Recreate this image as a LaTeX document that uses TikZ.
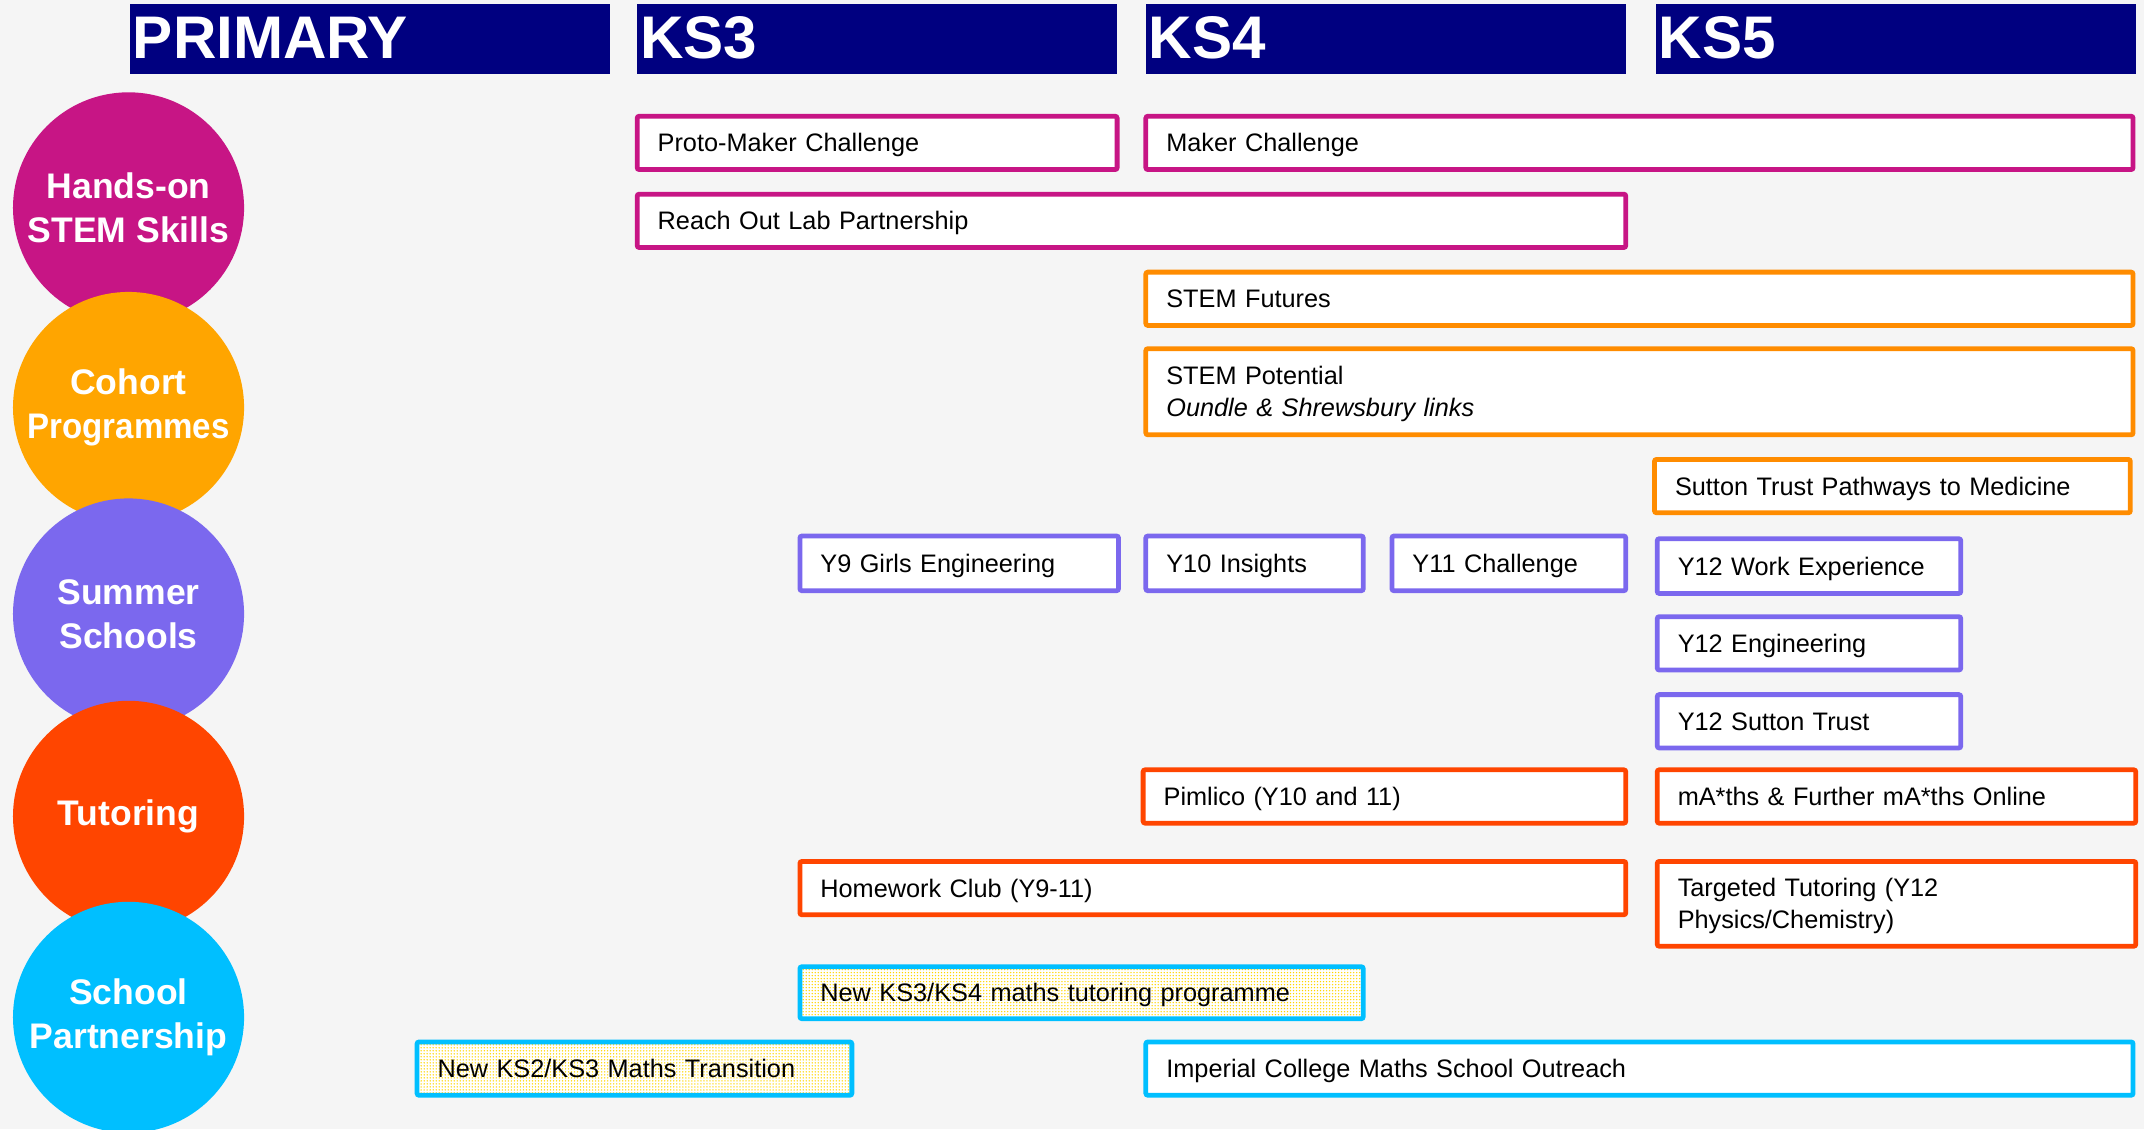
\documentclass[tikz,border=0pt]{standalone}
\usepackage{fontspec}
\usepackage{graphicx}
\setmainfont{Liberation Sans}
\usetikzlibrary{patterns}
\definecolor{bgc}{HTML}{F5F5F5}
\definecolor{navyc}{HTML}{000080}
\definecolor{magc}{HTML}{C71585}
\definecolor{orc}{HTML}{FFA500}
\definecolor{dorc}{HTML}{FF8C00}
\definecolor{purc}{HTML}{7B68EE}
\definecolor{redc}{HTML}{FF4500}
\definecolor{bluc}{HTML}{00BFFF}
\definecolor{goldc}{HTML}{FFD700}
\pgfdeclarepatternformonly{ydots}{\pgfqpoint{-1pt}{-1pt}}{\pgfqpoint{1pt}{1pt}}{\pgfqpoint{2.2pt}{2.2pt}}{\pgfpathcircle{\pgfqpoint{0pt}{0pt}}{0.55pt}\pgfusepath{fill}}
\newcommand{\prg}[8][]{%
  \pgfmathsetmacro{\tw}{#5-#3-30}%
  \pgfmathsetmacro{\bh}{#6-#4}%
  \node[pbox, draw=#2, text width=\tw pt, minimum height=\bh pt, anchor=north west, #1] (#7) at (#3,#4) {#8};}
\newcommand{\topstrut}{\rule{0pt}{17.5pt}}
\newcommand{\botstrut}{\rule[-4.3pt]{0pt}{4.3pt}}
\begin{document}
\begin{tikzpicture}[x=1pt,y=-1pt,
  hdr/.style={rectangle, fill=navyc, minimum width=351pt, minimum height=51pt, inner sep=0pt, outer sep=0pt, anchor=north west},
  hdrtxt/.style={text=white, font=\fontsize{44}{44}\selectfont\bfseries, inner sep=0pt, anchor=base west},
  circ/.style={circle, minimum size=169pt, inner sep=0pt, text=white, align=center, font=\fontsize{26}{32}\selectfont\bfseries},
  pbox/.style={rectangle, fill=white, line width=3.5pt, inner xsep=15pt, inner ysep=0pt, outer sep=0pt, align=left, text=black, rounded corners=1.5pt, font=\fontsize{18.5}{23.5}\selectfont, execute at begin node=\topstrut, execute at end node=\botstrut},
  yfill/.style={preaction={fill=white}, pattern=ydots, pattern color=goldc}]
\fill[bgc] (0,0) rectangle (1568,825.7);
\useasboundingbox (0,0) rectangle (1568,825.7);
% headers
\node[hdr] (hprim) at (95,3) {};
\node[hdr] (hks3) at (466,3) {};
\node[hdr] (hks4) at (838,3) {};
\node[hdr] (hks5) at (1211,3) {};
\node[hdrtxt] (tprim) at (97,43) {PRIMARY};
\node[hdrtxt] (tks3) at (468,43) {KS3};
\node[hdrtxt] (tks4) at (840,43) {KS4};
\node[hdrtxt] (tks5) at (1213,43) {KS5};
% circles
\node[circ, fill=magc] (chs) at (94,152) {Hands-on\\STEM Skills};
\node[circ, fill=orc] (ccp) at (94,298) {Cohort\\\scalebox{0.93}[1]{Programmes}};
\node[circ, fill=purc] (css) at (94,449) {Summer\\Schools};
\node[circ, fill=redc] (ctu) at (94,597) {Tutoring};
\node[circ, fill=bluc] (csp) at (94,744) {School\\Partnership};
% hands-on
\prg{magc}{466}{85}{817}{124}{pm}{Proto-Maker Challenge}
\prg{magc}{838}{85}{1560}{124}{mc}{Maker Challenge}
\prg{magc}{466}{142}{1189}{181}{rol}{Reach Out Lab Partnership}
% cohort
\prg{dorc}{838}{199}{1560}{238}{sf}{STEM Futures}
\prg{dorc}{838}{255}{1560}{318}{sp}{STEM Potential\\\textit{Oundle \& Shrewsbury links}}
\prg{dorc}{1210}{336}{1558}{375}{stp}{Sutton Trust Pathways to Medicine}
% summer
\prg{purc}{585}{392}{818}{432}{y9}{Y9 Girls Engineering}
\prg{purc}{838}{392}{997}{432}{y10}{Y10 Insights}
\prg{purc}{1018}{392}{1189}{432}{y11}{Y11 Challenge}
\prg{purc}{1212}{394}{1434}{434}{y12w}{Y12 Work Experience}
\prg{purc}{1212}{451}{1434}{490}{y12e}{Y12 Engineering}
\prg{purc}{1212}{508}{1434}{547}{y12s}{Y12 Sutton Trust}
% tutoring
\prg{redc}{836}{563}{1189}{602}{pim}{Pimlico (Y10 and 11)}
\prg{redc}{1212}{563}{1562}{602}{math}{mA*ths \& Further mA*ths Online}
\prg{redc}{585}{630}{1189}{669}{hw}{Homework Club (Y9-11)}
\prg{redc}{1212}{630}{1562}{692}{tt}{Targeted Tutoring (Y12\\Physics/Chemistry)}
% school partnership
\prg[yfill]{bluc}{585}{707}{997}{745}{nk34}{New KS3/KS4 maths tutoring programme}
\prg[yfill]{bluc}{305}{762}{623}{801}{nk23}{New KS2/KS3 Maths Transition}
\prg{bluc}{838}{762}{1560}{801}{icm}{Imperial College Maths School Outreach}
\end{tikzpicture}
\end{document}
